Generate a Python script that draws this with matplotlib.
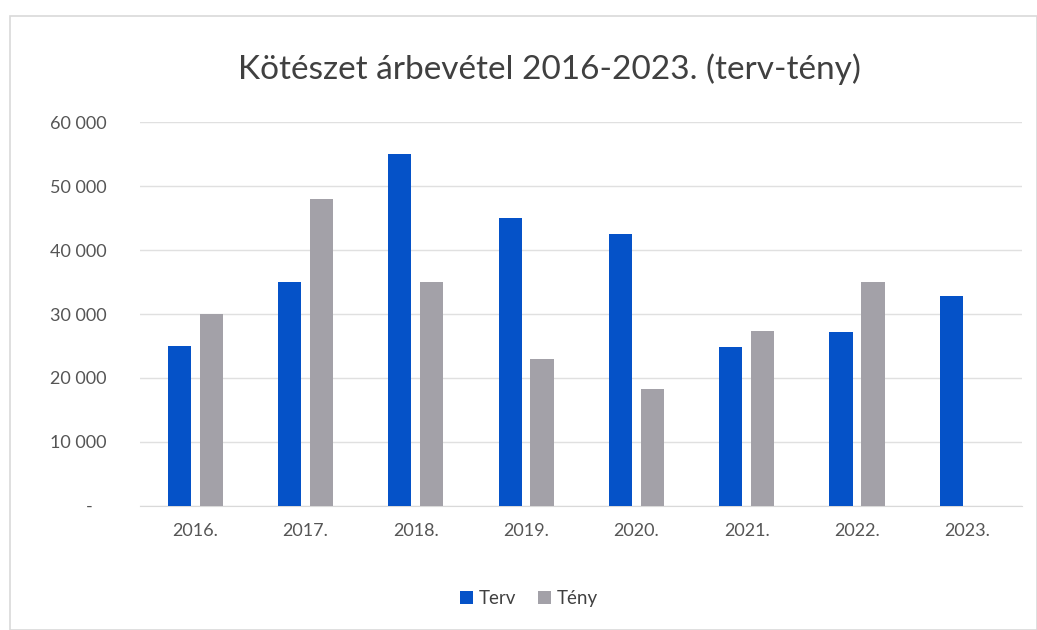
import matplotlib.pyplot as plt
import numpy as np
from matplotlib.patches import Rectangle

years = ["2016.", "2017.", "2018.", "2019.", "2020.", "2021.", "2022.", "2023."]
terv = [25000, 35000, 55000, 45000, 42500, 24800, 27200, 32800]
teny = [30000, 48000, 35000, 23000, 18300, 27400, 35000, None]

yticks = [0, 10000, 20000, 30000, 40000, 50000, 60000]
ytick_labels = ["-   ", "10 000", "20 000", "30 000", "40 000", "50 000", "60 000"]

plt.rcParams["font.family"] = ["Lato", "DejaVu Sans"]

fig = plt.figure(figsize=(10.37, 6.3), dpi=100)
ax = fig.add_axes([0.135, 0.197, 0.851, 0.609])

# light frame round the chart, like the pasted excel chart
fig.patches.append(Rectangle((0.01, 0.0), 0.99, 0.975, transform=fig.transFigure,
                             fill=False, edgecolor="#d9d9d9", linewidth=1.2))

x = np.arange(len(years))
w = 0.21
ax.bar(x - 0.145, terv, width=w, color="#0552c8", label="Terv", zorder=3)
teny_vals = [v if v is not None else 0 for v in teny]
ax.bar(x + 0.145, teny_vals, width=w, color="#a3a1a8", label="Tény", zorder=3)

ax.set_xlim(-0.5, len(years) - 0.5)
ax.set_ylim(0, 60000)
ax.set_yticks(yticks)
ax.set_yticklabels(ytick_labels)
ax.set_xticks(x)
ax.set_xticklabels(years)
ax.tick_params(axis="both", length=0, labelsize=13, colors="#555555")
ax.tick_params(axis="y", pad=24)
ax.tick_params(axis="x", pad=12)

ax.grid(axis="y", color="#e0e0e0", linewidth=1, zorder=0)
for s in ["top", "right", "left"]:
    ax.spines[s].set_visible(False)
ax.spines["bottom"].set_color("#d9d9d9")

fig.text(0.53, 0.89, "Kötészet árbevétel 2016-2023. (terv-tény)", ha="center", va="center",
         fontsize=24, color="#404040")

fig.legend(loc="center", bbox_to_anchor=(0.51, 0.05), ncol=2, frameon=False,
           fontsize=13.5, handlelength=0.7, handleheight=0.7, columnspacing=1.2,
           handletextpad=0.3, labelcolor="#404040")

fig.savefig("out.png", dpi=100)
